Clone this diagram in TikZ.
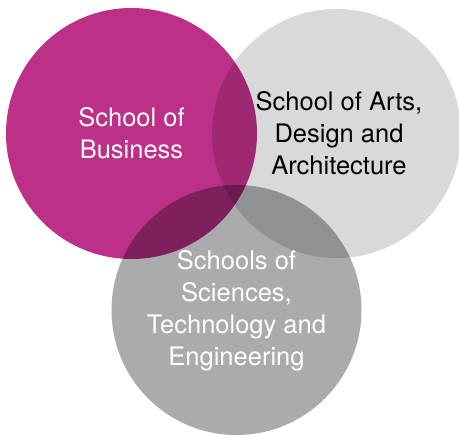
\documentclass[tikz,border=0pt]{standalone}
\usepackage{fontspec}
\setmainfont{TeX Gyre Heros}
\usepackage{tikz}
\usetikzlibrary{positioning}
\definecolor{business}{RGB}{188,48,136}
\definecolor{arts}{RGB}{217,217,217}
\definecolor{science}{RGB}{170,171,173}
\tikzset{venn/.style = {circle, draw = none, inner sep = 0, minimum size = #1}}
\tikzset{label text/.style = {align = center, font = \fontsize{25.5}{32}\selectfont}}

\begin{document}
\begin{tikzpicture}[x = 1pt, y = 1pt]
    \useasboundingbox (0, 0) rectangle (459, 436);

    \begin{scope}[blend group = multiply]
      \node [venn = 251pt, fill = business] (business) at (131.5, 302.5) {};
      \node [venn = 249pt, fill = arts] (arts) at (336.5, 302.5) {};
      \node [venn = 250pt, fill = science] (science) at (236.5, 126) {};
    \end{scope}

    \node [label text, text = white] (business text) at (business.center) {School of\\Business};
    \node [label text, text = black] (arts text) at ([xshift = 2.5pt]arts.center) {School of Arts,\\Design and\\Architecture};
    \node [label text, text = white] (science text) at ([yshift = -1pt]science.center) {Schools of\\Sciences,\\Technology and\\Engineering};
  \end{tikzpicture}
\end{document}
